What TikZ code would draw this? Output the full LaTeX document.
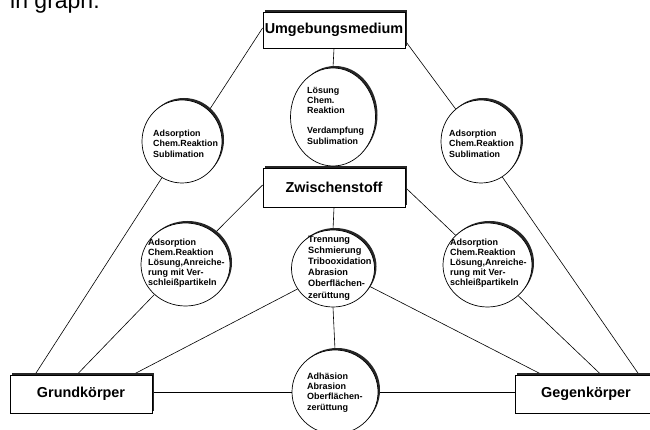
\documentclass[tikz,border=0pt]{standalone}
\usepackage{fontspec}
\setmainfont{Liberation Sans}
\usetikzlibrary{shapes.geometric}
\pgfdeclarelayer{bg}
\pgfsetlayers{bg,main}
\begin{document}
\begin{tikzpicture}[x=1pt,y=-1pt,
  conn/.style={draw=black, line width=0.6pt},
  shad/.style={preaction={fill=black!85, transform canvas={xshift=2pt,yshift=2pt}}},
  boxnode/.style={shad, rectangle, draw=black, line width=0.8pt, fill=white, inner sep=0pt,
    minimum width=142pt, font=\fontsize{14.4}{16}\selectfont\bfseries},
  circ/.style={shad, ellipse, draw=black, line width=0.7pt, fill=white, inner sep=0pt},
  ctext/.style={anchor=west, align=left, inner sep=0pt}
]
\useasboundingbox (0,0) rectangle (650,430);
\clip (0,0) rectangle (650,430);

\node[anchor=base west, inner sep=0pt, font=\fontsize{23}{27}\selectfont] (cap) at (10,9) {in graph.};

% boxes
\node[boxnode, minimum height=36pt] (bU) at (334,30) {Umgebungsmedium};
\node[boxnode, minimum height=39pt] (bZ) at (334,187.5) {Zwischenstoff};
\node[boxnode, minimum height=38pt] (bG) at (81,394) {Grundkörper};
\node[boxnode, minimum height=38pt] (bK) at (586,394) {Gegenkörper};

% circles
\node[circ, minimum width=80pt, minimum height=83pt] (cTL) at (182,141.5) {};
\node[circ, minimum width=85pt, minimum height=98pt] (cTM) at (333,117) {};
\node[circ, minimum width=80pt, minimum height=83pt] (cTR) at (481,141.5) {};
\node[circ, minimum width=89pt, minimum height=83pt] (cML) at (185.5,264.5) {};
\node[circ, minimum width=89pt, minimum height=84pt] (cMR) at (487.5,265) {};
\node[circ, minimum width=83pt, minimum height=77pt] (cC) at (333,268.5) {};
\node[circ, minimum width=86pt, minimum height=84pt] (cB) at (335,392) {};

% circle texts
\node[ctext, font=\fontsize{8.9}{10.5}\selectfont\bfseries] (tTL) at (153,143.5)
  {Adsorption\\Chem.Reaktion\\Sublimation};
\node[ctext, font=\fontsize{8.9}{10.5}\selectfont\bfseries] (tTR) at (449,143.5)
  {Adsorption\\Chem.Reaktion\\Sublimation};
\node[ctext, font=\fontsize{8.9}{10.2}\selectfont\bfseries] (tTM) at (307,115.5)
  {Lösung\\Chem.\\Reaktion\\[10.2pt]Verdampfung\\Sublimation};
\node[ctext, font=\fontsize{9}{10}\selectfont\bfseries] (tML) at (148,262.7)
  {Adsorption\\Chem.Reaktion\\Lösung,Anreiche-\\rung mit Ver-\\schleißpartikeln};
\node[ctext, font=\fontsize{9}{10}\selectfont\bfseries] (tMR) at (450,263)
  {Adsorption\\Chem.Reaktion\\Lösung,Anreiche-\\rung mit Ver-\\schleißpartikeln};
\node[ctext, font=\fontsize{9.2}{11.2}\selectfont\bfseries] (tC) at (308,268)
  {Trennung\\Schmierung\\Tribooxidation\\Abrasion\\Oberflächen-\\zerüttung};
\node[ctext, font=\fontsize{9}{10.3}\selectfont\bfseries] (tB) at (307,392.5)
  {Adhäsion\\Abrasion\\Oberflächen-\\zerüttung};

% connectors
\begin{pgfonlayer}{bg}
\draw[conn] ([yshift=2pt]bU.west) -- (cTL.49);
\draw[conn] (cTL.241) -- ([xshift=-46pt]bG.north);
\draw[conn] ([yshift=-11pt]bU.east) -- (cTR.128);
\draw[conn] (cTR.301) -- ([xshift=53pt]bK.north);
\draw[conn] (bU.south) -- (cTM.north);
\draw[conn] (cTM.south) -- (bZ.north);
\draw[conn] ([yshift=2.5pt]bZ.west) -- (cML.47);
\draw[conn] (cML.224) -- ([xshift=-4pt]bG.north);
\draw[conn] (bZ.east) -- (cMR.137);
\draw[conn] (cMR.315) -- ([xshift=15pt]bK.north);
\draw[conn] (bZ.south) -- (cC.north);
\draw[conn] (cC.210) -- ([xshift=52pt]bG.north);
\draw[conn] (cC.334) -- ([xshift=-44pt]bK.north);
\draw[conn] (cC.south) -- (cB.north);
\draw[conn] (bG.east |- cB.west) -- (cB.west);
\draw[conn] (cB.east) -- (bK.west |- cB.east);
\end{pgfonlayer}
\end{tikzpicture}
\end{document}
